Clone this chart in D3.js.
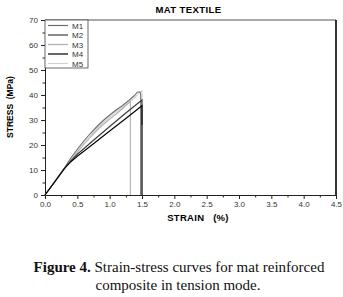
<!DOCTYPE html>
<html><head><meta charset="utf-8">
<script src="https://cdn.jsdelivr.net/npm/d3@7"></script>
<style>body{margin:0;background:#fff}svg{display:block}</style>
</head><body>
<svg id="c" width="343" height="297"></svg>
<script>
const seriesNames = ["M1","M2","M3","M4","M5"];
const seriesColors = ["#6e6e6e","#3a3a3a","#b0b0b0","#000000","#d2d2d2"];
const M1 = [[0,0],[0.1,3.6],[0.2,7.2],[0.3,10.9],[0.4,14.8],[0.5,18.3],[0.6,21.6],[0.7,24.6],[0.8,27.3],[0.9,29.8],[1.0,32],[1.1,34],[1.2,35.8],[1.3,37.9],[1.38,39.7],[1.43,41.2],[1.47,41.2],[1.48,40],[1.48,0]];
const M2 = [[0,0],[0.1,3.5],[0.2,7],[0.3,10.6],[0.4,13.7],[0.5,16.3],[0.75,21.9],[1.0,27.4],[1.25,32.8],[1.5,38],[1.5,28]];
const M3 = [[0,0],[0.1,3.5],[0.2,7],[0.3,10.5],[0.4,13.9],[0.5,17.1],[0.6,20.2],[0.7,23.1],[0.8,25.8],[0.9,28.2],[1.0,30.4],[1.1,32.4],[1.2,34.6],[1.32,37.5],[1.32,0]];
const M4 = [[0,0],[0.1,3.5],[0.2,7],[0.3,10.5],[0.4,13.3],[0.5,15.5],[0.75,20.5],[1.0,25.6],[1.25,30.6],[1.5,35.7],[1.5,0]];
const M5 = [[0,0],[0.1,3.5],[0.2,7],[0.3,10.6],[0.4,14.2],[0.5,17.6],[0.6,20.8],[0.7,23.8],[0.8,26.5],[0.9,29],[1.0,31.3],[1.1,33.3],[1.2,35.1],[1.3,37],[1.4,39.2],[1.46,41],[1.5,41.5],[1.5,0]];
const seriesData = [M1,M2,M3,M4,M5];
const xTicks = [0,0.5,1,1.5,2,2.5,3,3.5,4,4.5];
const yTicks = [0,10,20,30,40,50,60,70];
const title = "MAT TEXTILE";
const xTitle = "STRAIN   (%)";
const yTitle = "STRESS  (MPa)";

const svg = d3.select("#c");
const L=45, R=336, T=20, B=195;
const x = d3.scaleLinear().domain([0,4.5]).range([L,R]);
const y = d3.scaleLinear().domain([0,70]).range([B,T]);

svg.append("g").attr("transform",`translate(0,${B})`)
  .call(d3.axisBottom(x).tickValues(xTicks).tickFormat(d3.format(".1f")).tickSize(4).tickPadding(2));
svg.append("g").attr("transform",`translate(0,${B})`)
  .call(d3.axisBottom(x).tickValues(d3.range(0.25,4.5,0.5)).tickFormat("").tickSize(2.5))
  .select(".domain").remove();
svg.append("g").attr("transform",`translate(${L},0)`)
  .call(d3.axisLeft(y).tickValues(yTicks).tickSize(4).tickPadding(3));
svg.append("g").attr("transform",`translate(${L},0)`)
  .call(d3.axisLeft(y).tickValues(d3.range(5,70,10)).tickFormat("").tickSize(2.5))
  .select(".domain").remove();
svg.selectAll(".tick text").attr("font-family","Arial, Liberation Sans, sans-serif").attr("font-size",8).attr("fill","#333");
svg.selectAll(".domain, .tick line").attr("stroke","#222");

svg.append("line").attr("x1",L).attr("x2",R).attr("y1",T).attr("y2",T).attr("stroke","#555").attr("stroke-width",1);
svg.append("line").attr("x1",R).attr("x2",R).attr("y1",T).attr("y2",B).attr("stroke","#000").attr("stroke-width",1.6);

const line = d3.line().x(d=>x(d[0])).y(d=>y(d[1]));
const order = [4,2,0,1,3];
order.forEach(i=>{
  svg.append("path").datum(seriesData[i]).attr("d",line)
    .attr("fill","none").attr("stroke",seriesColors[i]).attr("stroke-width",1.1);
});

const lg = svg.append("g");
lg.append("rect").attr("x",L).attr("y",T).attr("width",43).attr("height",48)
  .attr("fill","#fff").attr("stroke","#444").attr("stroke-width",0.8);
seriesNames.forEach((n,i)=>{
  const yy = T+5.5+i*9.5;
  lg.append("line").attr("x1",L+3).attr("x2",L+23).attr("y1",yy).attr("y2",yy)
    .attr("stroke",seriesColors[i]).attr("stroke-width",1.2);
  lg.append("text").attr("x",L+27).attr("y",yy+3).text(n)
    .attr("font-family","Arial, Liberation Sans, sans-serif").attr("font-size",8).attr("fill","#333");
});

svg.append("text").attr("x",188.5).attr("y",12.5).attr("text-anchor","middle").text(title)
  .attr("font-family","Arial, Liberation Sans, sans-serif").attr("font-size",9.5).attr("font-weight","bold")
  .attr("letter-spacing",0.4);
svg.append("text").attr("x",198).attr("y",221).attr("text-anchor","middle").text(xTitle)
  .attr("font-family","Arial, Liberation Sans, sans-serif").attr("font-size",9.5).attr("font-weight","bold")
  .attr("letter-spacing",0.3).style("white-space","pre");
svg.append("text").attr("transform","translate(13,107) rotate(-90)").attr("text-anchor","middle").text(yTitle)
  .attr("font-family","Arial, Liberation Sans, sans-serif").attr("font-size",8.5).attr("font-weight","bold")
  .style("white-space","pre");

const cap = svg.append("g").attr("font-family","'Liberation Serif','Times New Roman',serif").attr("font-size",15).attr("fill","#111");
const t1 = cap.append("text").attr("x",179).attr("y",271.5).attr("text-anchor","middle");
t1.append("tspan").attr("font-weight","bold").text("Figure 4.");
t1.append("tspan").text(" Strain-stress curves for mat reinforced");
cap.append("text").attr("x",178).attr("y",290).attr("text-anchor","middle").text("composite in tension mode.");
</script>
</body></html>
